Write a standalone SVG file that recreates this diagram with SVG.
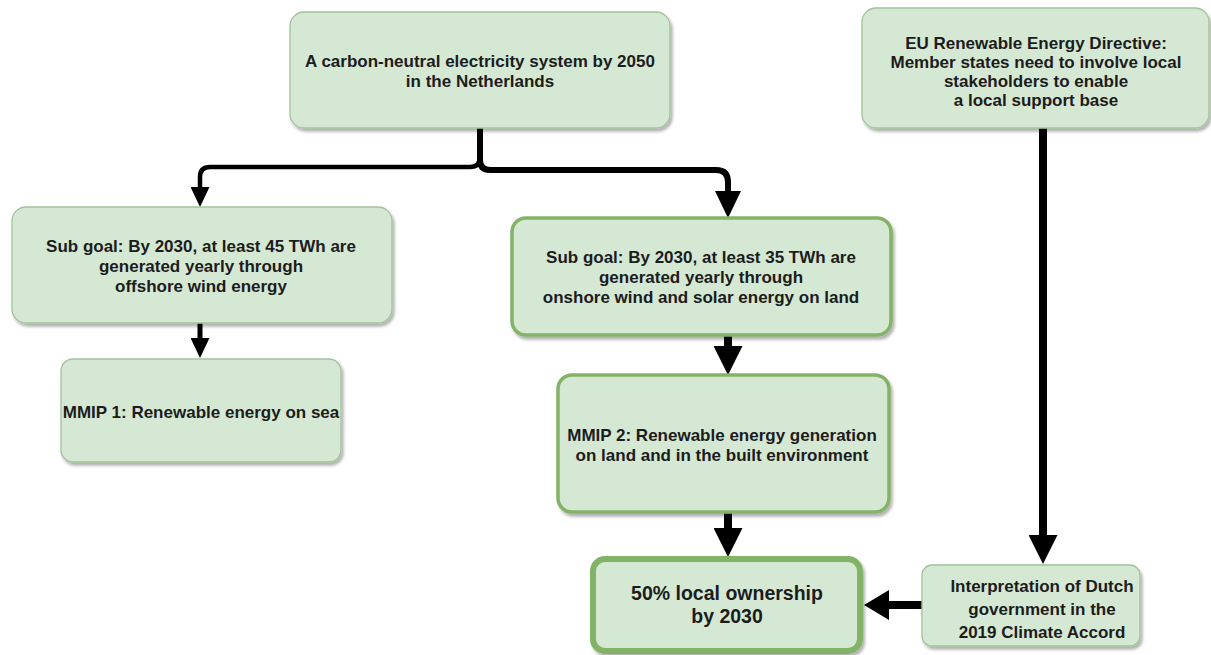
<svg xmlns="http://www.w3.org/2000/svg" width="1211" height="655" viewBox="0 0 1211 655">
  <defs>
    <filter id="shadow" x="-10%" y="-10%" width="125%" height="130%">
      <feDropShadow dx="2" dy="3" stdDeviation="1.6" flood-color="#000" flood-opacity="0.3"/>
    </filter>
    <!-- arrowheads: markerWidth = length along the line, markerHeight = breadth -->
    <marker id="ah-sm" viewBox="0 0 10 10" refX="0" refY="5" markerWidth="20" markerHeight="19" markerUnits="userSpaceOnUse" orient="auto" preserveAspectRatio="none">
      <path d="M0,0 L10,5 L0,10 z" fill="#000"/>
    </marker>
    <marker id="ah-md" viewBox="0 0 10 10" refX="0" refY="5" markerWidth="27" markerHeight="26" markerUnits="userSpaceOnUse" orient="auto" preserveAspectRatio="none">
      <path d="M0,0 L10,5 L0,10 z" fill="#000"/>
    </marker>
    <marker id="ah-lg" viewBox="0 0 10 10" refX="0" refY="5" markerWidth="29" markerHeight="29" markerUnits="userSpaceOnUse" orient="auto" preserveAspectRatio="none">
      <path d="M0,0 L10,5 L0,10 z" fill="#000"/>
    </marker>
    <marker id="ah-side" viewBox="0 0 10 10" refX="0" refY="5" markerWidth="25" markerHeight="30" markerUnits="userSpaceOnUse" orient="auto" preserveAspectRatio="none">
      <path d="M0,0 L10,5 L0,10 z" fill="#000"/>
    </marker>
  </defs>
  <style>
    .box { fill: #d5e8d4; filter: url(#shadow); }
    .thin { stroke: #a3c29a; stroke-width: 1.3; }
    .mid { stroke: #82b366; stroke-width: 3.5; }
    .thick { stroke: #82b366; stroke-width: 6; }
    .label { font-family: "Liberation Sans", Arial, Helvetica, sans-serif; font-weight: bold; font-size: 17px; fill: #1c1c1c; text-anchor: middle; }
    .big { font-size: 19.5px; }
    .wire { fill: none; stroke: #000; stroke-linejoin: round; }
  </style>

  <rect width="1211" height="655" fill="#ffffff"/>

  <!-- connectors -->
  <g id="connectors">
    <path class="wire" stroke-width="4.5" d="M480,128 V157 Q480,167 470,167 H210 Q200,167 200,177 V187" marker-end="url(#ah-sm)"/>
    <path class="wire" stroke-width="6" d="M480,128 V160 Q480,170 490,170 H716 Q728,170 728,182 V191" marker-end="url(#ah-md)"/>
    <path class="wire" stroke-width="5" d="M200,323 V338" marker-end="url(#ah-sm)"/>
    <path class="wire" stroke-width="8" d="M728,335 V346" marker-end="url(#ah-lg)"/>
    <path class="wire" stroke-width="8" d="M728,512 V528" marker-end="url(#ah-lg)"/>
    <path class="wire" stroke-width="8" d="M1043,128 V535" marker-end="url(#ah-lg)"/>
    <path class="wire" stroke-width="8" d="M922,605 H889" marker-end="url(#ah-side)"/>
  </g>

  <g id="node-goal-2050">
    <rect class="box thin" x="290" y="12" width="380" height="116" rx="14"/>
    <text class="label" x="480" y="67">A carbon-neutral electricity system by 2050</text>
    <text class="label" x="480" y="87">in the Netherlands</text>
  </g>

  <g id="node-eu-directive">
    <rect class="box thin" x="862" y="8" width="347" height="120" rx="14"/>
    <text class="label" x="1036" y="49">EU Renewable Energy Directive:</text>
    <text class="label" x="1036" y="68">Member states need to involve local</text>
    <text class="label" x="1036" y="87">stakeholders to enable</text>
    <text class="label" x="1036" y="106">a local support base</text>
  </g>

  <g id="node-subgoal-offshore">
    <rect class="box thin" x="12" y="207" width="380" height="116" rx="14"/>
    <text class="label" x="201" y="252">Sub goal: By 2030, at least 45 TWh are</text>
    <text class="label" x="201" y="272">generated yearly through</text>
    <text class="label" x="201" y="292">offshore wind energy</text>
  </g>

  <g id="node-mmip1">
    <rect class="box thin" x="61" y="359" width="280" height="103" rx="12"/>
    <text class="label" x="201" y="418">MMIP 1: Renewable energy on sea</text>
  </g>

  <g id="node-subgoal-onshore">
    <rect class="box mid" x="512" y="218" width="379" height="117" rx="14"/>
    <text class="label" x="701" y="263">Sub goal: By 2030, at least 35 TWh are</text>
    <text class="label" x="701" y="283">generated yearly through</text>
    <text class="label" x="701" y="303">onshore wind and solar energy on land</text>
  </g>

  <g id="node-mmip2">
    <rect class="box mid" x="558" y="375" width="331" height="137" rx="14"/>
    <text class="label" x="722" y="441">MMIP 2: Renewable energy generation</text>
    <text class="label" x="722" y="461">on land and in the built environment</text>
  </g>

  <g id="node-local-ownership">
    <rect class="box thick" x="593" y="559" width="267" height="92" rx="12"/>
    <text class="label big" x="727" y="600">50% local ownership</text>
    <text class="label big" x="727" y="623">by 2030</text>
  </g>

  <g id="node-climate-accord">
    <rect class="box thin" x="922" y="565" width="218" height="81" rx="10"/>
    <text class="label" x="1042" y="592">Interpretation of Dutch</text>
    <text class="label" x="1042" y="615">government in the</text>
    <text class="label" x="1042" y="638">2019 Climate Accord</text>
  </g>
</svg>
